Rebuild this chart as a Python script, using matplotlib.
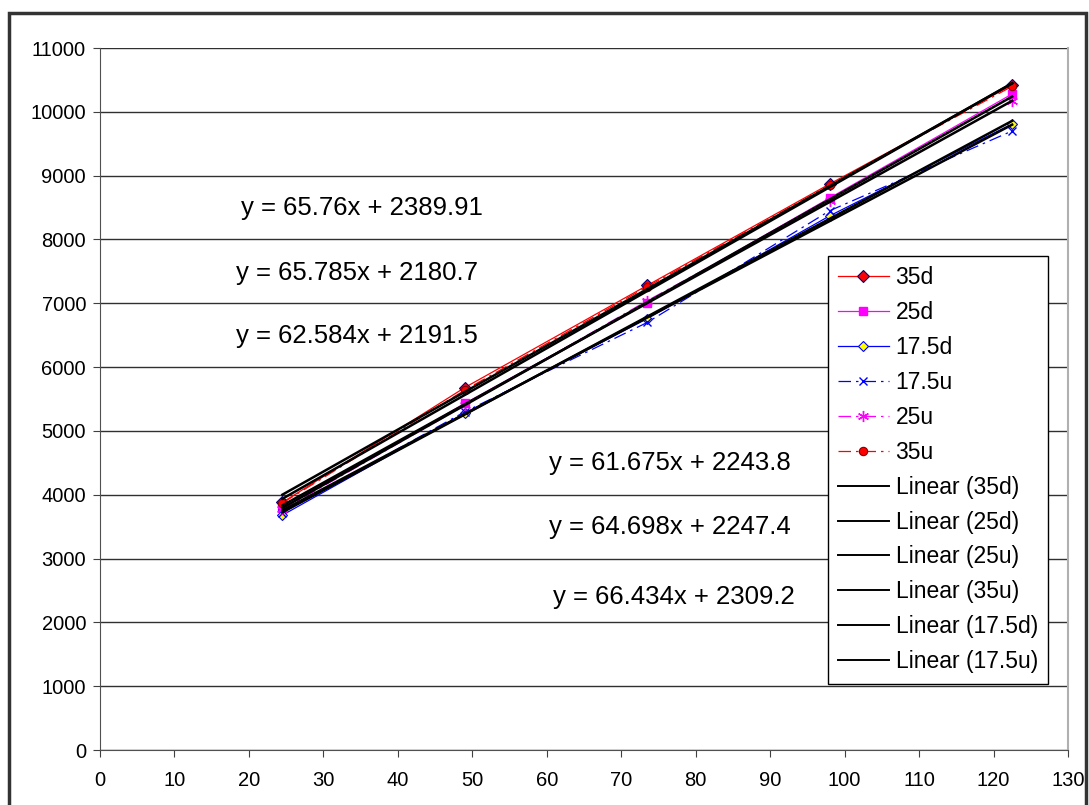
import numpy as np
import matplotlib
matplotlib.use("Agg")
import matplotlib.pyplot as plt
from matplotlib.patches import Rectangle

plt.rcParams['font.family'] = ['Liberation Sans', 'DejaVu Sans']

# measured values
x = [24.5, 49, 73.5, 98, 122.5]
y_35d = [3880, 5680, 7280, 8870, 10420]
y_25d = [3790, 5430, 7010, 8650, 10280]
y_175d = [3680, 5280, 6760, 8370, 9810]
y_175u = [3720, 5300, 6700, 8450, 9700]
y_25u = [3770, 5400, 7040, 8600, 10170]
y_35u = [3870, 5640, 7260, 8850, 10400]

# trendline equations (slope, intercept) as printed on the chart
fit_names = ['35d', '25d', '25u', '35u', '17.5d', '17.5u']
fit_slope = [66.434, 65.785, 64.698, 65.76, 62.584, 61.675]
fit_icpt = [2309.2, 2180.7, 2247.4, 2389.91, 2191.5, 2243.8]

eq_text = ["y = 65.76x + 2389.91", "y = 65.785x + 2180.7", "y = 62.584x + 2191.5",
           "y = 61.675x + 2243.8", "y = 64.698x + 2247.4", "y = 66.434x + 2309.2"]
eq_pos = [(18.9, 8500), (18.3, 7480), (18.3, 6480), (60.3, 4490), (60.3, 3490), (60.8, 2390)]

fig = plt.figure(figsize=(10.89, 8.05), dpi=100)
ax = fig.add_axes([100/1089, 55/805, 968/1089, 702/805])

dd = (0, (10, 4, 2, 4))
ax.plot(x, y_35d, color='#FF0000', lw=0.9, marker='D', ms=6, mfc='#FF0000', mec='#000080', mew=0.8, label='35d')
ax.plot(x, y_25d, color='#FF00FF', lw=0.9, marker='s', ms=6, mfc='#FF00FF', mec='#FF00FF', label='25d')
ax.plot(x, y_175d, color='#0000FF', lw=0.9, marker='D', ms=5, mfc='#FFFF00', mec='#0000FF', mew=0.8, label='17.5d')
ax.plot(x, y_175u, color='#0000FF', lw=0.9, ls=dd, marker='x', ms=6, mec='#0000FF', mew=1, label='17.5u')
ax.plot(x, y_25u, color='#FF00FF', lw=0.9, ls=dd, marker=(6, 2, 0), ms=8, mec='#FF00FF', mew=1, label='25u')
ax.plot(x, y_35u, color='#FF0000', lw=0.9, ls=dd, marker='o', ms=6, mfc='#FF0000', mec='#800000', mew=0.8, label='35u')

xf = np.array([x[0], x[-1]])
for n, m, b in zip(fit_names, fit_slope, fit_icpt):
    ax.plot(xf, m * xf + b, color='black', lw=1.8, label='Linear (%s)' % n)

for t, (px, py) in zip(eq_text, eq_pos):
    ax.text(px, py, t, fontsize=18.5, va='center', ha='left')

ax.set_xlim(0, 130)
ax.set_ylim(0, 11000)
ax.set_xticks(np.arange(0, 131, 10))
ax.set_yticks(np.arange(0, 11001, 1000))
ax.tick_params(labelsize=14.5, length=5, color='#404040', direction='out', pad=5)
ax.tick_params(axis='x', pad=10)
ax.yaxis.grid(True, color='#303030', lw=1)
ax.set_axisbelow(True)
ax.spines['top'].set_visible(False)
ax.spines['right'].set_color('#B0B0B0')
ax.spines['right'].set_linewidth(1.5)
ax.spines['left'].set_color('#505050')
ax.spines['bottom'].set_color('#505050')

leg = ax.legend(loc='upper left', bbox_to_anchor=(0.752, 0.704), fontsize=16.5,
                fancybox=False, framealpha=1, edgecolor='black', handlelength=2.2,
                labelspacing=0.52, borderpad=0.45, handletextpad=0.3, borderaxespad=0)
leg.get_frame().set_linewidth(1)
for h in leg.get_lines()[6:]:
    h.set_linewidth(1.4)

fig.patches.append(Rectangle((9/1089, -0.02), 1077/1089, 1 - 13/805 + 0.02,
                             transform=fig.transFigure, fill=False, lw=2.5, ec='#333333'))

plt.savefig('out.png', dpi=100)
